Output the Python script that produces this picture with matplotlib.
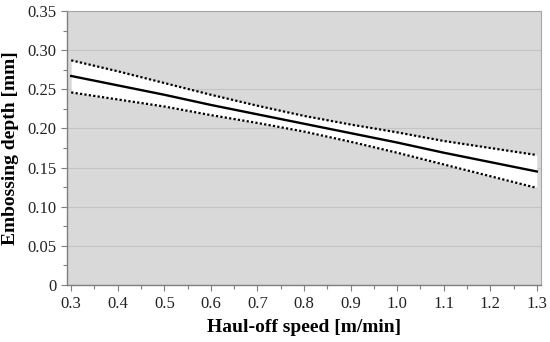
import matplotlib
matplotlib.use("Agg")
import matplotlib.pyplot as plt
from matplotlib.ticker import MultipleLocator, FuncFormatter

speed = [0.3, 0.4, 0.5, 0.6, 0.7, 0.8, 0.9, 1.0, 1.1, 1.2, 1.3]
depth_mean = [0.267, 0.255, 0.243, 0.230, 0.218, 0.206, 0.194, 0.182, 0.169, 0.157, 0.145]
depth_upper = [0.287, 0.273, 0.258, 0.243, 0.229, 0.216, 0.205, 0.195, 0.184, 0.175, 0.166]
depth_lower = [0.246, 0.237, 0.228, 0.217, 0.207, 0.196, 0.183, 0.169, 0.154, 0.139, 0.124]

plt.rcParams['font.family'] = ['Liberation Serif', 'DejaVu Serif']

fig = plt.figure(figsize=(5.5, 3.42), dpi=100)
ax = fig.add_axes([67/550, 1-285/342, (541-67)/550, (285-11)/342])
ax.set_facecolor('#d9d9d9')

ax.fill_between(speed, depth_lower, depth_upper, color='white', zorder=1, linewidth=0)
ax.plot(speed, depth_mean, color='black', lw=1.7, zorder=3)
ax.plot(speed, depth_upper, color='black', lw=1.6, ls=(0, (1, 1)), zorder=3)
ax.plot(speed, depth_lower, color='black', lw=1.6, ls=(0, (1, 1)), zorder=3)

ax.set_xlim(0.291, 1.309)
ax.set_ylim(0, 0.35)
ax.xaxis.set_major_locator(MultipleLocator(0.1))
ax.xaxis.set_minor_locator(MultipleLocator(0.05))
ax.yaxis.set_major_locator(MultipleLocator(0.05))
ax.yaxis.set_minor_locator(MultipleLocator(0.025))
ax.xaxis.set_major_formatter(FuncFormatter(lambda v, p: f"{v:.1f}"))
ax.yaxis.set_major_formatter(FuncFormatter(lambda v, p: "0" if abs(v) < 1e-9 else f"{v:.2f}"))

ax.grid(axis='y', which='major', color='#c4c4c4', lw=0.8, zorder=0)
ax.set_axisbelow(True)

for s in ['left', 'bottom']:
    ax.spines[s].set_color('#7f7f7f')
    ax.spines[s].set_linewidth(1.0)
for s in ['top', 'right']:
    ax.spines[s].set_color('#a6a6a6')
    ax.spines[s].set_linewidth(0.8)

ax.tick_params(which='both', direction='out', color='#7f7f7f', labelsize=12, labelcolor='#222222')
ax.tick_params(which='major', length=4, width=0.8)
ax.tick_params(which='minor', length=3, width=0.8)
ax.tick_params(axis='x', pad=4)

ax.set_xlabel('Haul-off speed [m/min]', fontsize=14, fontweight='bold', labelpad=5)
ax.set_ylabel('Embossing depth [mm]', fontsize=14, fontweight='bold', labelpad=6)

fig.savefig('out.png', dpi=100)
